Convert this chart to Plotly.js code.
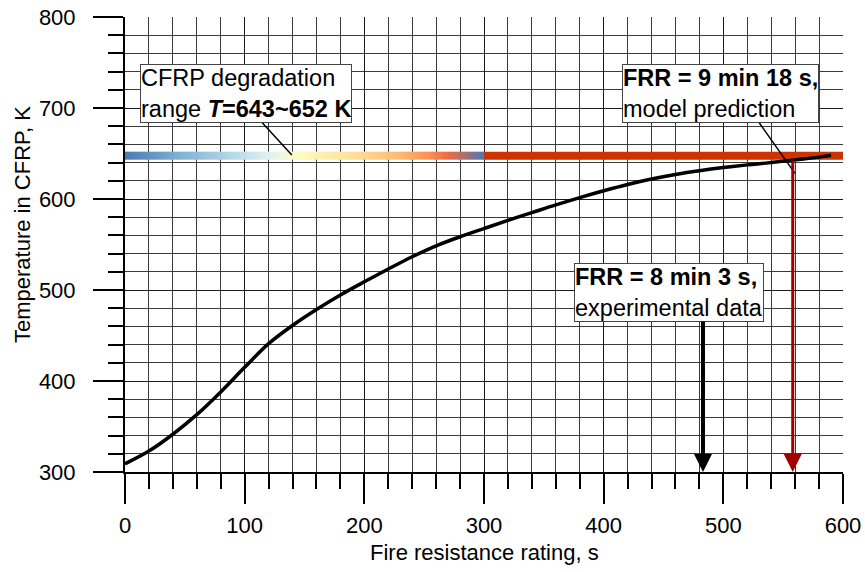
<!DOCTYPE html>
<html>
<head>
<meta charset="utf-8">
<script src="https://cdn.plot.ly/plotly-3.0.1.min.js"></script>
<style>html,body{margin:0;padding:0;background:#fff;}#chart{width:865px;height:572px;}</style>
</head>
<body>
<div id="chart"></div>
<script>
// Model curve: fire resistance time (s) vs temperature in CFRP (K)
const timeS = [0,20,40,60,80,100,120,140,160,180,200,220,240,260,280,300,320,340,360,380,400,420,440,460,480,500,520,540,560,580,590];
const tempK = [309,323,341.5,363,388,415,441,461,478.5,494.5,509,523,536.5,548.5,558.5,567.5,576.5,585,593.5,601.5,609,616,622,627,631,634.5,637.5,640,643,646,648];

// Degradation range
const degLow = 643, degHigh = 652;
const gradStart = 0, gradEnd = 300, barEnd = 600;

// FRR values (s)
const frrExp = 483;   // 8 min 3 s
const frrModel = 558; // 9 min 18 s

// Colour stops of the gradient band
const gradStops  = [0, 0.15, 0.29, 0.40, 0.48, 0.63, 0.77, 0.85, 0.90, 0.945, 0.98, 1];
const gradColors = ['#4a7ab5','#7fb0d4','#b0d6e6','#e0f0f2','#fefcc0','#fee29a','#fdb870','#f98e52','#ee6a46','#b0706a','#6a74a0','#4a78b8'];

const xTicks = [0,100,200,300,400,500,600];
const yTicks = [300,400,500,600,700,800];

// build heatmap cells for the gradient band
const step = 2;
const edges = [], zRow = [];
for (let v = gradStart; v <= gradEnd; v += step) edges.push(v);
for (let i = 0; i < edges.length - 1; i++) zRow.push((edges[i] + edges[i+1]) / 2);

const colorscale = gradStops.map((s, i) => [s, gradColors[i]]);

const traces = [
  {
    type: 'heatmap', x: edges, y: [degLow, degHigh], z: [zRow],
    zmin: gradStart, zmax: gradEnd, colorscale: colorscale,
    showscale: false, hoverinfo: 'skip'
  },
  {
    type: 'scatter', mode: 'lines', x: timeS, y: tempK,
    line: {color: '#000', width: 3.5, shape: 'spline', smoothing: 1},
    hoverinfo: 'skip'
  }
];

const FAM = "'Liberation Sans', Arial, sans-serif";
const tickFont = {family: FAM, size: 22, color: '#000'};
const titleFont = {family: FAM, size: 22, color: '#000'};
const annFont = {family: FAM, size: 23.5, color: '#000'};

const axisCommon = {
  showline: true, linecolor: '#000', linewidth: 2,
  ticks: 'outside', ticklen: 30, tickwidth: 2, tickcolor: '#000',
  showgrid: true, gridcolor: '#1a1a1a', gridwidth: 1,
  zeroline: false, tickfont: tickFont, fixedrange: true
};

const layout = {
  width: 865, height: 572,
  margin: {l: 125, r: 22, t: 17, b: 100},
  paper_bgcolor: '#fff', plot_bgcolor: '#fff',
  showlegend: false,
  xaxis: Object.assign({}, axisCommon, {
    range: [0, 600], tickvals: xTicks, ticktext: xTicks.map(String), ticklabelstandoff: 3,
    minor: {dtick: 20, ticklen: 15, tickwidth: 2, tickcolor: '#000', showgrid: true, gridcolor: '#3a3a3a', gridwidth: 1}
  }),
  yaxis: Object.assign({}, axisCommon, {
    range: [300, 800], tickvals: yTicks, ticktext: yTicks.map(String), ticklabelstandoff: 13,
    minor: {dtick: 20, ticklen: 15, tickwidth: 2, tickcolor: '#000', showgrid: true, gridcolor: '#3a3a3a', gridwidth: 1}
  }),
  shapes: [
    {type: 'rect', xref: 'x', yref: 'y', x0: gradEnd, x1: barEnd, y0: degLow, y1: degHigh,
     fillcolor: '#cc3300', line: {width: 0}, layer: 'between'},
    {type: 'line', xref: 'x', yref: 'y', x0: 110.3, y0: 690.1, x1: 139.4, y1: 648.4,
     line: {color: '#000', width: 1.5}},
    {type: 'line', xref: 'x', yref: 'y', x0: 526.4, y0: 690.4, x1: 559.9, y1: 628.2,
     line: {color: '#000', width: 1.5}}
  ],
  annotations: [
    {xref: 'x', yref: 'y', x: 12.5, y: 748.4, xanchor: 'left', yanchor: 'top', align: 'left',
     text: 'CFRP degradation<br>range <b><i>T</i>=643~652 K</b>', showarrow: false,
     font: annFont, bgcolor: '#fff', bordercolor: '#444', borderwidth: 1, borderpad: 0},
    {xref: 'x', yref: 'y', x: 415.3, y: 748.4, xanchor: 'left', yanchor: 'top', align: 'left',
     text: '<b>FRR = 9 min 18 s,</b><br>model prediction', showarrow: false,
     font: annFont, bgcolor: '#fff', bordercolor: '#444', borderwidth: 1, borderpad: 0},
    {xref: 'x', yref: 'y', x: 375.2, y: 530, xanchor: 'left', yanchor: 'top', align: 'left',
     text: '<b>FRR = 8 min 3 s,</b><br>experimental data', showarrow: false,
     font: annFont, bgcolor: '#fff', bordercolor: '#444', borderwidth: 1, borderpad: 0},
    {xref: 'x', yref: 'y', x: frrExp, y: 300, axref: 'x', ayref: 'y', ax: frrExp, ay: 467,
     text: '', showarrow: true, arrowhead: 2, arrowwidth: 4, arrowsize: 0.9, arrowcolor: '#000', standoff: 0},
    {xref: 'x', yref: 'y', x: frrModel, y: 300, axref: 'x', ayref: 'y', ax: frrModel, ay: 643.6,
     text: '', showarrow: true, arrowhead: 2, arrowwidth: 3, arrowsize: 1.2, arrowcolor: '#a00000', standoff: 0},
    {xref: 'paper', yref: 'paper', x: -0.1435, y: 0.545, xanchor: 'center', yanchor: 'middle',
     text: 'Temperature in CFRP, K', textangle: -90, showarrow: false, font: titleFont},
    {xref: 'paper', yref: 'paper', x: 0.5, y: -0.178, xanchor: 'center', yanchor: 'middle',
     text: 'Fire resistance rating, s', showarrow: false, font: titleFont}
  ]
};

Plotly.newPlot('chart', traces, layout, {displayModeBar: false, staticPlot: true});
</script>
</body>
</html>
